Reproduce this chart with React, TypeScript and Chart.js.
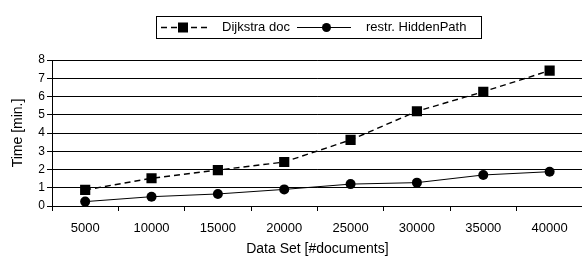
import React, { useEffect, useRef } from "react";
import { Chart, registerables } from "chart.js";

Chart.register(...registerables);

const categories = ["5000", "10000", "15000", "20000", "25000", "30000", "35000", "40000"];
const dijkstraDoc = [0.88, 1.52, 1.97, 2.41, 3.62, 5.19, 6.26, 7.42];
const hiddenPath = [0.24, 0.51, 0.66, 0.91, 1.2, 1.28, 1.7, 1.88];
const seriesLabels = ["Dijkstra doc", "restr. HiddenPath"];
const yTitle = "Time [min.]";
const xTitle = "Data Set [#documents]";

const FONT = "'Liberation Sans', Arial, sans-serif";

const legendPlugin = {
  id: "boxLegend",
  afterDraw(chart: any) {
    const ctx = chart.ctx;
    const ds = chart.data.datasets;
    ctx.save();
    ctx.strokeStyle = "#000";
    ctx.lineWidth = 1;
    ctx.strokeRect(156.5, 16.5, 325, 22);
    const cy = 27.5;
    ctx.beginPath();
    ctx.setLineDash([6, 4]);
    ctx.lineWidth = 1.3;
    ctx.moveTo(161, cy);
    ctx.lineTo(207, cy);
    ctx.stroke();
    ctx.setLineDash([]);
    ctx.fillStyle = "#000";
    ctx.fillRect(183 - 5, cy - 5, 10, 10);
    ctx.beginPath();
    ctx.lineWidth = 1;
    ctx.moveTo(297, cy);
    ctx.lineTo(351, cy);
    ctx.stroke();
    ctx.beginPath();
    ctx.arc(326.5, cy, 4.5, 0, Math.PI * 2);
    ctx.fill();
    ctx.font = "13px " + FONT;
    ctx.textBaseline = "middle";
    ctx.textAlign = "left";
    ctx.fillText(ds[0].label, 222, cy);
    ctx.fillText(ds[1].label, 366, cy);
    ctx.restore();
  },
};

export default function App() {
  const ref = useRef<HTMLCanvasElement>(null);
  useEffect(() => {
    if (!ref.current) return;
    const chart = new Chart(ref.current, {
      type: "line",
      data: {
        labels: categories,
        datasets: [
          {
            label: seriesLabels[0],
            data: dijkstraDoc,
            borderColor: "#000",
            backgroundColor: "#000",
            borderWidth: 1.4,
            borderDash: [6, 4],
            pointStyle: "rect",
            pointRadius: 7.2,
            pointBorderWidth: 0,
            tension: 0,
          },
          {
            label: seriesLabels[1],
            data: hiddenPath,
            borderColor: "#000",
            backgroundColor: "#000",
            borderWidth: 1,
            pointStyle: "circle",
            pointRadius: 5,
            pointBorderWidth: 0,
            tension: 0,
          },
        ],
      },
      options: {
        responsive: false,
        animation: false,
        layout: { padding: { top: 60, right: 4, left: 0, bottom: 0 } },
        plugins: {
          legend: { display: false },
          tooltip: { enabled: false },
        },
        scales: {
          x: {
            offset: true,
            grid: {
              offset: true,
              drawOnChartArea: false,
              drawTicks: true,
              tickLength: 5,
              color: "#000",
            },
            border: { color: "#000", width: 1 },
            ticks: { color: "#000", font: { family: FONT, size: 13 }, padding: 10, maxRotation: 0, autoSkip: false },
            title: {
              display: true,
              text: xTitle,
              color: "#000",
              font: { family: FONT, size: 14 },
              padding: { top: 0, bottom: 4 },
            },
            afterFit(scale: any) {
              scale.height = 56;
            },
          },
          y: {
            min: 0,
            max: 8,
            grid: { color: "#000", lineWidth: 1, tickLength: 5, drawTicks: true },
            border: { color: "#000", width: 1 },
            ticks: { stepSize: 1, autoSkip: false, color: "#000", font: { family: FONT, size: 12 }, padding: 2 },
            title: {
              display: true,
              text: yTitle,
              color: "#000",
              font: { family: FONT, size: 14 },
              padding: { top: 10, bottom: 0 },
            },
            afterFit(scale: any) {
              scale.width = 52;
            },
          },
        },
      },
      plugins: [legendPlugin],
    });
    return () => chart.destroy();
  }, []);
  return (
    <div style={{ position: "absolute", left: 0, top: 0, width: 582, height: 262, overflow: "hidden", background: "#fff" }}>
      <canvas ref={ref} width={590} height={262} style={{ display: "block", width: 590, height: 262 }} />
    </div>
  );
}
